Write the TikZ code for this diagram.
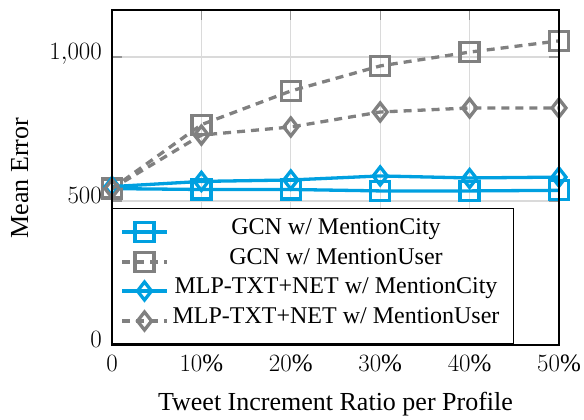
\documentclass[tikz,border=0pt]{standalone}
\usepackage{fontspec}
\setmainfont{Liberation Serif}
\definecolor{myblue}{RGB}{0,160,224}
\definecolor{mygray}{RGB}{128,128,128}
\definecolor{gridc}{RGB}{218,218,218}
\definecolor{tickc}{RGB}{150,150,150}
\begin{document}
\begin{tikzpicture}[x=1pt,y=1pt,
  sq/.style={draw, rectangle, minimum size=19pt, inner sep=0pt, line width=3.3pt, solid},
  dmk/.style={line width=3.3pt, solid, line join=miter},
  plotline/.style={line width=3.3pt},
  dashline/.style={line width=3.3pt, dash pattern=on 8pt off 6pt},
  gridline/.style={draw=gridc, line width=1.2pt},
  tickline/.style={draw=tickc, line width=1.2pt},
  ticklab/.style={font=\fontsize{25}{30}\selectfont},
  axlab/.style={font=\fontsize{26}{31}\selectfont},
  leglab/.style={font=\fontsize{24}{29}\selectfont, anchor=mid},
  legbox/.style={draw=black, fill=white, line width=1pt}
]
\useasboundingbox (0,0) rectangle (584,420);
\begin{scope}[shift={(112,75)}, x=8.94pt, y=0.288pt]
  % grid
  \foreach \xv in {10,20,30,40} \draw[gridline] (\xv,0) -- (\xv,1163);
  \foreach \yv in {500,1000} \draw[gridline] (0,\yv) -- (50,\yv);
  % ticks
  \foreach \xv in {10,20,30,40} {
    \draw[tickline] (\xv,1163) -- ++(0,-35);
    \draw[tickline] (\xv,0) -- ++(0,35);
  }
  \foreach \yv in {500,1000} {
    \draw[tickline] (0,\yv) -- ++(1.1,0);
    \draw[tickline] (50,\yv) -- ++(-1.1,0);
  }
  % GCN w/ MentionCity
  \draw[plotline, myblue] (0,543) -- (10,540) -- (20,540) -- (30,535) -- (40,535) -- (50,537);
  \node[sq, myblue] (a0) at (0,543) {};
  \node[sq, myblue] (a1) at (10,540) {};
  \node[sq, myblue] (a2) at (20,540) {};
  \node[sq, myblue] (a3) at (30,535) {};
  \node[sq, myblue] (a4) at (40,535) {};
  \node[sq, myblue] (a5) at (50,537) {};
  % GCN w/ MentionUser
  \draw[dashline, mygray] (0,543) -- (10,765) -- (20,882) -- (30,969) -- (40,1017) -- (50,1056);
  \node[sq, mygray] (b0) at (0,543) {};
  \node[sq, mygray] (b1) at (10,765) {};
  \node[sq, mygray] (b2) at (20,882) {};
  \node[sq, mygray] (b3) at (30,969) {};
  \node[sq, mygray] (b4) at (40,1017) {};
  \node[sq, mygray] (b5) at (50,1056) {};
  % MLP-TXT+NET w/ MentionCity
  \draw[plotline, myblue] (0,550) -- (10,568) -- (20,573) -- (30,587) -- (40,580) -- (50,583);
  \foreach \n/\xv/\yv in {c0/0/550,c1/10/568,c2/20/573,c3/30/587,c4/40/578,c5/50/583} {
    \coordinate (\n) at (\xv,\yv);
    \draw[dmk, myblue] (\n) +(0pt,9pt) -- +(7pt,0pt) -- +(0pt,-9pt) -- +(-7pt,0pt) -- cycle;
  }
  % MLP-TXT+NET w/ MentionUser
  \draw[dashline, mygray] (0,543) -- (10,729) -- (20,757) -- (30,809) -- (40,823) -- (50,823);
  \foreach \n/\xv/\yv in {d0/0/543,d1/10/729,d2/20/757,d3/30/809,d4/40/823,d5/50/823} {
    \coordinate (\n) at (\xv,\yv);
    \draw[dmk, mygray] (\n) +(0pt,9pt) -- +(7pt,0pt) -- +(0pt,-9pt) -- +(-7pt,0pt) -- cycle;
  }
\end{scope}
% legend
\path[legbox] (112,76) rectangle (513,211);
\coordinate (l1a) at (122,188); \coordinate (l1b) at (167,188);
\coordinate (l2a) at (122,158); \coordinate (l2b) at (167,158);
\coordinate (l3a) at (122,129); \coordinate (l3b) at (167,129);
\coordinate (l4a) at (122,99);  \coordinate (l4b) at (167,99);
\draw[plotline, myblue] (l1a) -- (l1b);
\node[sq, myblue] (m1) at (144.5,188) {};
\node[leglab] (t1) at (336,188) {GCN w/ MentionCity};
\draw[dashline, mygray] (l2a) -- (l2b);
\node[sq, mygray] (m2) at (144.5,158) {};
\node[leglab] (t2) at (336,158) {GCN w/ MentionUser};
\draw[plotline, myblue] (l3a) -- (l3b);
\coordinate (m3) at (144.5,129);
\draw[dmk, myblue] (m3) +(0,9) -- +(7,0) -- +(0,-9) -- +(-7,0) -- cycle;
\node[leglab] (t3) at (336,129) {MLP-TXT+NET w/ MentionCity};
\draw[dashline, mygray] (l4a) -- (l4b);
\coordinate (m4) at (144.5,99);
\draw[dmk, mygray] (m4) +(0,9) -- +(7,0) -- +(0,-9) -- +(-7,0) -- cycle;
\node[leglab] (t4) at (336,99) {MLP-TXT+NET w/ MentionUser};
% axis box
\draw[line width=1.2pt] (112,75) rectangle (559,410);
% tick labels
\foreach \xv/\lab in {0/0,1/10\%,2/20\%,3/30\%,4/40\%,5/50\%}
  \node[ticklab, anchor=base] (xt\xv) at ({112+\xv*89.4},48) {$\lab$};
\node[ticklab, anchor=mid east, inner sep=0pt] (y0) at (102,75) {$0$};
\node[ticklab, anchor=mid east, inner sep=0pt] (y500) at (102,219) {$500$};
\node[ticklab, anchor=mid east, inner sep=0pt] (y1000) at (102,363) {$1{,}000$};
% axis labels
\node[axlab, anchor=base] (xlab) at (335.5,9) {Tweet Increment Ratio per Profile};
\node[axlab, anchor=base, rotate=90] (ylab) at (28,242) {Mean Error};
\end{tikzpicture}
\end{document}
